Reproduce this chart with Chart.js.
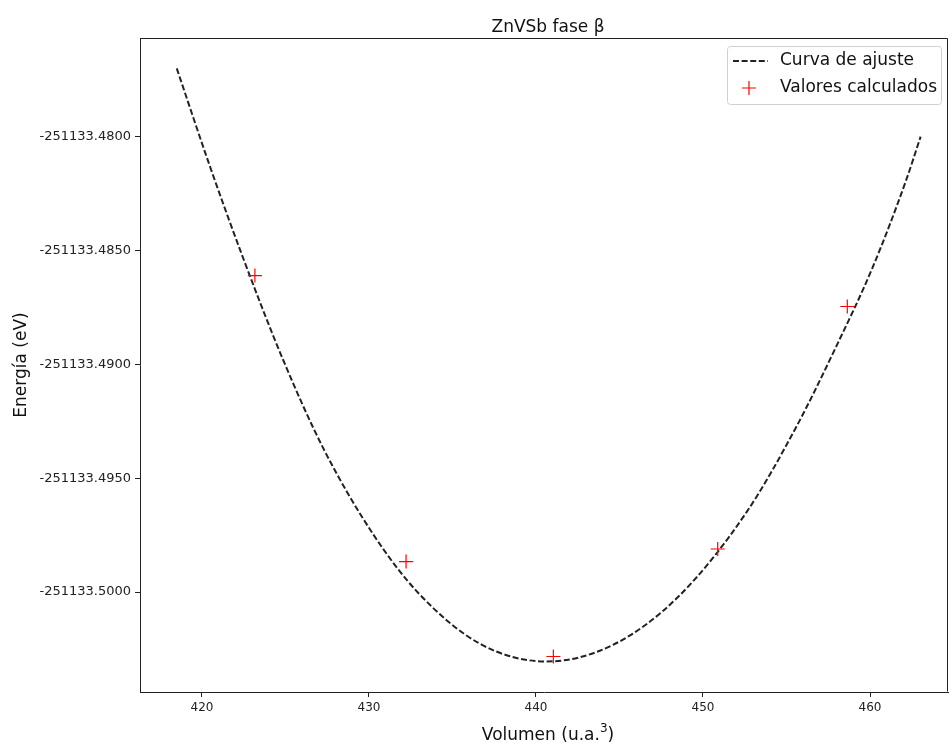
<!DOCTYPE html>
<html>
<head>
<meta charset="utf-8">
<script src="https://cdn.jsdelivr.net/npm/chart.js@4.4.1/dist/chart.umd.min.js"></script>
<style>
  html, body { margin: 0; padding: 0; background: #fff; }
  canvas { display: block; }
</style>
</head>
<body>
<canvas id="eosChart" width="951" height="746"></canvas>
<script>
// Fitted curve
const fitVolume = [418.49, 420.48, 422.47, 424.87, 427.26, 430.25, 432.94, 436.64, 440.63,
    444.61, 448.50, 452.60, 455.59, 457.98, 460.17, 462.17, 463.03];
const fitEnergy = [-251133.47700, -251133.48131, -251133.48534, -251133.48982, -251133.49368,
    -251133.49746, -251133.50003, -251133.50227, -251133.50305,
    -251133.50232, -251133.50022, -251133.49650, -251133.49274, -251133.48921,
    -251133.48572, -251133.48190, -251133.48000];

// Calculated values (red crosses)
const calcVolume = [423.17, 432.22, 441.04, 450.88, 458.64];
const calcEnergy = [-251133.48610, -251133.49866, -251133.50283, -251133.49811, -251133.48746];

// Tick labels
const xTicks = [420, 430, 440, 450, 460];
const yTicks = [-251133.4800, -251133.4850, -251133.4900, -251133.4950, -251133.5000];

const axisColor = '#222';
const fontFamily = "'DejaVu Sans', sans-serif";

// title, axis labels, top/right spines and legend box
const decorations = {
    id: 'decorations',
    afterDraw(chart) {
        const ctx = chart.ctx;
        const a = chart.chartArea;
        ctx.save();

        ctx.strokeStyle = axisColor;
        ctx.lineWidth = 1;
        ctx.beginPath();
        ctx.moveTo(Math.round(a.left) + 0.5, Math.round(a.top) + 0.5);
        ctx.lineTo(Math.round(a.right) - 0.5, Math.round(a.top) + 0.5);
        ctx.lineTo(Math.round(a.right) - 0.5, Math.round(a.bottom) - 0.5);
        ctx.stroke();

        const cx = (a.left + a.right) / 2 + 4;

        // title
        ctx.fillStyle = '#111';
        ctx.textAlign = 'center';
        ctx.textBaseline = 'alphabetic';
        ctx.font = '17px ' + fontFamily;
        ctx.fillText('ZnVSb fase \u03B2', cx, 32);

        // x label with superscript
        ctx.font = '17px ' + fontFamily;
        const part1 = 'Volumen (u.a.';
        const w1 = ctx.measureText(part1).width;
        const w3 = ctx.measureText(')').width;
        ctx.font = '12px ' + fontFamily;
        const w2 = ctx.measureText('3').width;
        const total = w1 + w2 + w3;
        const x0 = cx - total / 2;
        ctx.textAlign = 'left';
        ctx.font = '17px ' + fontFamily;
        ctx.fillText(part1, x0, 740);
        ctx.font = '12px ' + fontFamily;
        ctx.fillText('3', x0 + w1, 732);
        ctx.font = '17px ' + fontFamily;
        ctx.fillText(')', x0 + w1 + w2, 740);

        // y label
        ctx.save();
        ctx.translate(26, (a.top + a.bottom) / 2);
        ctx.rotate(-Math.PI / 2);
        ctx.textAlign = 'center';
        ctx.font = '17px ' + fontFamily;
        ctx.fillText('Energ\u00EDa (eV)', 0, 0);
        ctx.restore();

        // legend
        const lx = 727, ly = 46, lw = 214, lh = 58;
        ctx.beginPath();
        ctx.roundRect(lx + 0.5, ly + 0.5, lw, lh, 3);
        ctx.fillStyle = 'rgba(255,255,255,0.85)';
        ctx.fill();
        ctx.strokeStyle = '#d0d0d0';
        ctx.lineWidth = 1;
        ctx.stroke();

        ctx.strokeStyle = '#222';
        ctx.lineWidth = 2;
        ctx.setLineDash([6, 2.6]);
        ctx.beginPath();
        ctx.moveTo(733, 61);
        ctx.lineTo(768, 61);
        ctx.stroke();
        ctx.setLineDash([]);

        ctx.strokeStyle = 'red';
        ctx.lineWidth = 1.2;
        ctx.beginPath();
        ctx.moveTo(742, 88); ctx.lineTo(756, 88);
        ctx.moveTo(749, 81); ctx.lineTo(749, 95);
        ctx.stroke();

        ctx.fillStyle = '#111';
        ctx.textAlign = 'left';
        ctx.textBaseline = 'middle';
        ctx.font = '17px ' + fontFamily;
        ctx.fillText('Curva de ajuste', 780, 61);
        ctx.fillText('Valores calculados', 780, 88);

        ctx.restore();
    }
};

function initializeChart() {
    const canvas = document.getElementById('eosChart');
    const ctx = canvas.getContext('2d');

    const fitPoints = fitVolume.map((v, i) => ({ x: v, y: fitEnergy[i] }));
    const calcPoints = calcVolume.map((v, i) => ({ x: v, y: calcEnergy[i] }));

    new Chart(ctx, {
        type: 'line',
        data: {
            datasets: [{
                label: 'Curva de ajuste',
                data: fitPoints,
                borderColor: '#222',
                borderWidth: 2,
                borderDash: [6, 2.6],
                pointRadius: 0,
                fill: false,
                cubicInterpolationMode: 'monotone',
                order: 1
            }, {
                label: 'Valores calculados',
                data: calcPoints,
                showLine: false,
                pointStyle: 'cross',
                pointRadius: 7,
                pointBorderColor: 'red',
                pointBorderWidth: 1.2,
                borderColor: 'red',
                order: 0
            }]
        },
        options: {
            responsive: false,
            animation: false,
            layout: { autoPadding: false, padding: { top: 38, right: 3, left: 0, bottom: 0 } },
            plugins: {
                legend: { display: false },
                title: { display: false },
                tooltip: { enabled: false }
            },
            scales: {
                x: {
                    type: 'linear',
                    min: 416.29,
                    max: 464.67,
                    afterBuildTicks: scale => { scale.ticks = xTicks.map(v => ({ value: v })); },
                    afterFit: scale => {
                        scale.height = 54;
                        scale.paddingLeft = 0;
                        scale.paddingRight = 0;
                    },
                    grid: { drawOnChartArea: false, drawTicks: true, tickLength: 5, color: axisColor },
                    border: { display: true, color: axisColor, width: 1 },
                    ticks: {
                        padding: 4,
                        color: '#222',
                        font: { family: fontFamily, size: 12 },
                        callback: v => String(v)
                    }
                },
                y: {
                    type: 'linear',
                    min: -251133.50439,
                    max: -251133.475667,
                    afterBuildTicks: scale => { scale.ticks = yTicks.map(v => ({ value: v })); },
                    afterFit: scale => {
                        scale.width = 140;
                        scale.paddingTop = 0;
                        scale.paddingBottom = 0;
                    },
                    grid: { drawOnChartArea: false, drawTicks: true, tickLength: 5, color: axisColor },
                    border: { display: true, color: axisColor, width: 1 },
                    ticks: {
                        padding: 4,
                        color: '#222',
                        font: { family: fontFamily, size: 13 },
                        callback: v => Number(v).toFixed(4)
                    }
                }
            }
        },
        plugins: [decorations]
    });
}

document.addEventListener('DOMContentLoaded', initializeChart);
</script>
</body>
</html>
